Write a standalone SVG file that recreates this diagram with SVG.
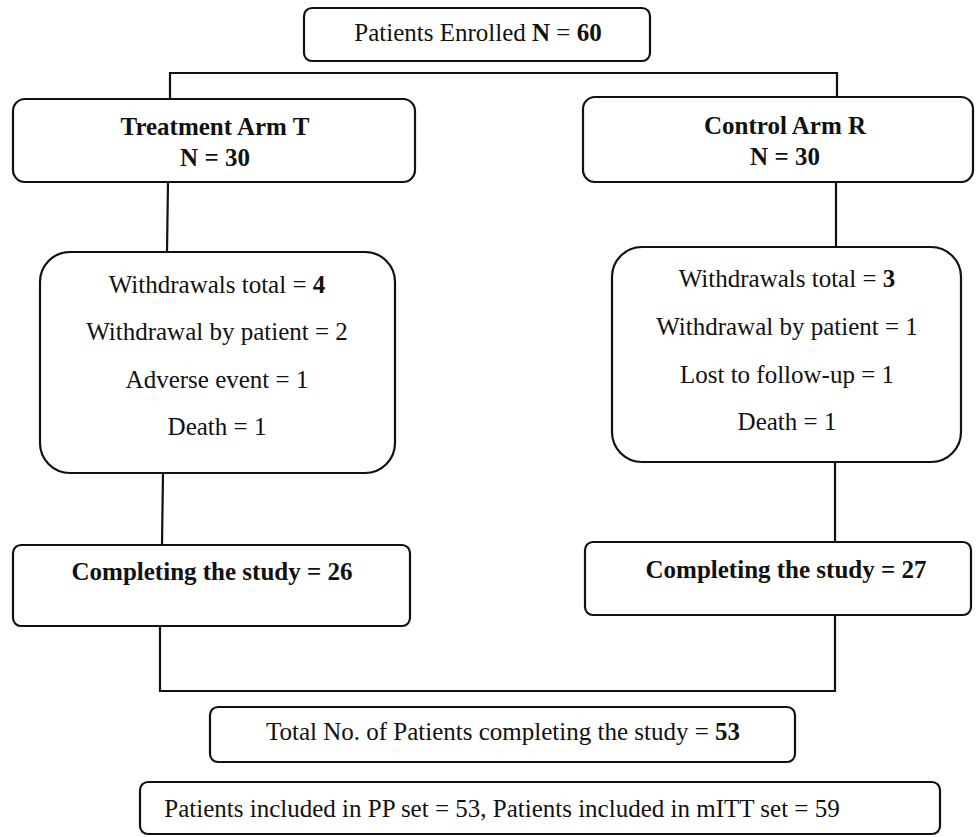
<svg xmlns="http://www.w3.org/2000/svg" width="976" height="837" viewBox="0 0 976 837">
<style>
.box{fill:#fff;stroke:#111;stroke-width:2.2}
.ln{fill:none;stroke:#111;stroke-width:2.2}
text{font-family:"Times New Roman","Liberation Serif",Tinos,"DejaVu Serif",serif;font-size:25px;font-weight:normal;fill:#111;text-anchor:middle}
.b{font-weight:bold}
</style>
<rect width="976" height="837" fill="#fff"/>
<g id="connectors">
<polyline class="ln" points="170,99 170,73 837,73 837,97"/>
<line class="ln" x1="168" y1="182" x2="167" y2="252"/>
<line class="ln" x1="836" y1="182" x2="836" y2="247"/>
<line class="ln" x1="163" y1="473" x2="162" y2="545"/>
<line class="ln" x1="835" y1="462" x2="835" y2="542"/>
<polyline class="ln" points="160,626 160,691 835,691 835,615"/>
</g>
<g id="enrolled">
<rect class="box" x="304" y="8" width="346" height="53" rx="8"/>
<text x="478" y="41">Patients Enrolled <tspan class="b">N</tspan> = <tspan class="b">60</tspan></text>
</g>
<g id="treatment">
<rect class="box" x="13" y="99" width="402" height="83" rx="12"/>
<text class="b" x="215" y="135">Treatment Arm T</text>
<text class="b" x="215" y="166">N = 30</text>
</g>
<g id="control">
<rect class="box" x="583" y="97" width="390" height="85" rx="12"/>
<text class="b" x="785" y="134">Control Arm R</text>
<text class="b" x="785" y="165">N = 30</text>
</g>
<g id="withdrawT">
<rect class="box" x="40" y="252" width="355" height="221" rx="30"/>
<text x="217" y="293">Withdrawals total = <tspan class="b">4</tspan></text>
<text x="217" y="340">Withdrawal by patient = 2</text>
<text x="217" y="388">Adverse event = 1</text>
<text x="217" y="435">Death = 1</text>
</g>
<g id="withdrawR">
<rect class="box" x="612" y="247" width="349" height="215" rx="30"/>
<text x="787" y="287">Withdrawals total = <tspan class="b">3</tspan></text>
<text x="787" y="335">Withdrawal by patient = 1</text>
<text x="787" y="383">Lost to follow-up = 1</text>
<text x="787" y="430">Death = 1</text>
</g>
<g id="completeT">
<rect class="box" x="13" y="545" width="397" height="81" rx="8"/>
<text class="b" x="212" y="580">Completing the study = 26</text>
</g>
<g id="completeR">
<rect class="box" x="585" y="542" width="386" height="73" rx="8"/>
<text class="b" x="786" y="578">Completing the study = 27</text>
</g>
<g id="total">
<rect class="box" x="210" y="707" width="585" height="55" rx="8"/>
<text x="503" y="740">Total No. of Patients completing the study = <tspan class="b">53</tspan></text>
</g>
<g id="sets">
<rect class="box" x="140" y="782" width="800" height="52" rx="8"/>
<text x="502" y="817">Patients included in PP set = 53, Patients included in mITT set = 59</text>
</g>
</svg>
